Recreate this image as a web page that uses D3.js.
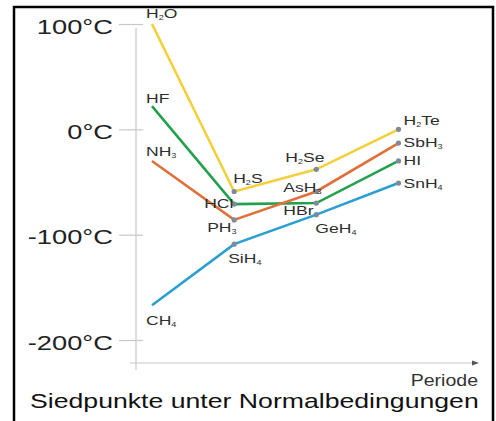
<!DOCTYPE html>
<html>
<head>
<meta charset="utf-8">
<script src="https://cdn.jsdelivr.net/npm/d3@7"></script>
<style>
  body { margin: 0; background: #fff; }
  svg { display: block; font-family: 'Liberation Sans', Arial, sans-serif; }
</style>
</head>
<body>
<div id="chart"></div>
<script>
// Siedepunkte der Wasserstoffverbindungen (°C), Periode 2..5
const periods = [2, 3, 4, 5]
const tickValues = [100, 0, -100, -200]

const group14Names = ['CH|4', 'SiH|4', 'GeH|4', 'SnH|4']
const group14Values = [-167, -109, -81, -51]
const group15Names = ['NH|3', 'PH|3', 'AsH|3', 'SbH|3']
const group15Values = [-30, -86, -59, -13]
const group16Names = ['H|2|O', 'H|2|S', 'H|2|Se', 'H|2|Te']
const group16Values = [100, -59, -38, 0]
const group17Names = ['HF', 'HCl', 'HBr', 'HI']
const group17Values = [22, -71, -70, -30]

// label offsets from each point [dx, dy]
const labelOffsets = {
  'CH|4': [-6, 20], 'SiH|4': [-6, 19], 'GeH|4': [-1, 18], 'SnH|4': [5, 5],
  'NH|3': [-6, -5], 'PH|3': [-27, 12], 'AsH|3': [-33, 1], 'SbH|3': [5, 4],
  'H|2|O': [-6, -6], 'H|2|S': [-1, -8], 'H|2|Se': [-31, -7], 'H|2|Te': [5, -4],
  'HF': [-6, -3], 'HCl': [-30, 4], 'HBr': [-33, 12], 'HI': [5, 4]
}

const series = [
  { names: group14Names, values: group14Values, color: '#2a9fd2' },
  { names: group17Names, values: group17Values, color: '#22a04c' },
  { names: group15Names, values: group15Values, color: '#e0703a' },
  { names: group16Names, values: group16Values, color: '#f3d03a' }
]

const width = 496
const height = 421
const sx = 1.3 // text in the picture is stretched horizontally

const svg = d3.select('#chart')
  .append('svg')
  .attr('width', width)
  .attr('height', height)

let x = d3.scaleLinear().domain([2, 5]).range([152, 398.5])
let y = d3.scaleLinear().domain([-200, 100]).range([340, 24])

// axes
svg.append('line')
  .attr('x1', 136).attr('x2', 136)
  .attr('y1', 28).attr('y2', 370)
  .attr('stroke', '#c8c8c8').attr('stroke-width', 1.2)

svg.append('line')
  .attr('x1', 130).attr('x2', 474)
  .attr('y1', 363).attr('y2', 363)
  .attr('stroke', '#c8c8c8').attr('stroke-width', 1.2)

svg.append('path')
  .attr('d', 'M472,360.5 L479,363 L472,365.5 Z')
  .attr('fill', '#555')

let yAxis = svg.append('g')
  .attr('transform', 'translate(143,0)')
  .call(d3.axisLeft(y).tickValues(tickValues).tickSize(24).tickFormat(d => d + '°C'))

yAxis.select('.domain').remove()
yAxis.selectAll('.tick line').attr('stroke', '#c8c8c8').attr('stroke-width', 1.2)
yAxis.selectAll('.tick text')
  .attr('x', null)
  .attr('dy', null)
  .attr('transform', 'translate(-30,9) scale(' + sx + ',1)')
  .attr('font-size', 21)
  .attr('fill', '#222')
  .attr('font-family', "'Liberation Sans', Arial, sans-serif")

// lines
const line = d3.line()
  .x((d, i) => x(periods[i]))
  .y(d => y(d))

series.forEach(s => {
  svg.append('path')
    .datum(s.values)
    .attr('d', line)
    .attr('fill', 'none')
    .attr('stroke', s.color)
    .attr('stroke-width', 2.6)
})

// dots (not on period 2)
series.forEach(s => {
  svg.selectAll(null)
    .data(s.values.slice(1))
    .enter()
    .append('circle')
    .attr('cx', (d, i) => x(periods[i + 1]))
    .attr('cy', d => y(d))
    .attr('r', 2.6)
    .attr('fill', '#7d8b96')
})

// labels with subscripts
const addLabel = (name, px, py) => {
  let off = labelOffsets[name]
  let parts = name.split('|')
  let t = svg.append('text')
    .attr('transform', 'translate(' + (px + off[0]) + ',' + (py + off[1]) + ') scale(' + sx + ',1)')
    .attr('font-size', 13.5)
    .attr('fill', '#2e2e2e')
  parts.forEach((p, i) => {
    if (i % 2 === 1) {
      t.append('tspan').attr('font-size', 7).attr('dy', 2).text(p)
    } else {
      t.append('tspan').attr('dy', i > 0 ? -2 : 0).text(p)
    }
  })
}

series.forEach(s => {
  s.names.forEach((n, i) => addLabel(n, x(periods[i]), y(s.values[i])))
})

// axis title and caption
svg.append('text')
  .attr('transform', 'translate(478,386) scale(1.15,1)')
  .attr('text-anchor', 'end')
  .attr('font-size', 17)
  .attr('fill', '#333')
  .text('Periode')

svg.append('text')
  .attr('transform', 'translate(30,408) scale(' + sx + ',1)')
  .attr('font-size', 20.5)
  .attr('fill', '#111')
  .text('Siedpunkte unter Normalbedingungen')

// frame
svg.append('rect')
  .attr('x', 14).attr('y', 7)
  .attr('width', 479).attr('height', 420)
  .attr('fill', 'none')
  .attr('stroke', '#000')
  .attr('stroke-width', 2.5)
</script>
</body>
</html>
